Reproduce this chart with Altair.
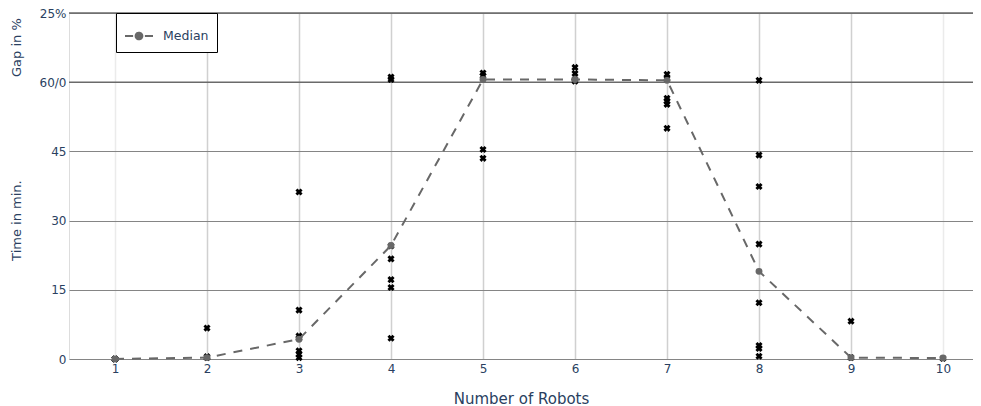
import altair as alt
import pandas as pd

# ---- data ----
robots = [1, 2, 3, 4, 5, 6, 7, 8, 9, 10]
times_r1 = [0.0, 0.0, 0.0]
times_r2 = [6.7, 0.5, 0.3]
times_r3 = [36.2, 10.6, 5.0, 4.5, 1.8, 1.0, 0.3]
times_r4 = [61.1, 60.6, 24.5, 21.7, 17.2, 15.5, 4.5]
times_r5 = [62.0, 61.4, 45.4, 43.5]
times_r6 = [63.2, 61.9, 60.6, 60.2]
times_r7 = [61.7, 60.8, 56.5, 55.9, 55.2, 50.0]
times_r8 = [60.4, 44.2, 37.4, 24.9, 12.2, 2.9, 2.3, 0.6]
times_r9 = [8.2, 0.3]
times_r10 = [0.1]
median_time = [0.0, 0.3, 4.3, 24.6, 60.6, 60.6, 60.4, 19.0, 0.3, 0.2]

y_tick_values = [0, 7.5, 15, 22.5, 30, 37.5, 45, 52.5, 60, 67.5, 75]
y_tick_labels = {0: "0", 15: "15", 30: "30", 45: "45", 60: "60/0", 75: "25%"}
y_titles = ["Time in min.", "Gap in %"]
y_title_pos = [30, 67.5]

all_times = [times_r1, times_r2, times_r3, times_r4, times_r5,
             times_r6, times_r7, times_r8, times_r9, times_r10]

scatter_df = pd.DataFrame(
    [{"robots": r, "time": t} for r, vals in zip(robots, all_times) for t in vals]
)
median_df = pd.DataFrame({"robots": robots, "time": median_time, "series": "Median"})
title_df = pd.DataFrame({"label": y_titles, "pos": y_title_pos})
sep_df = pd.DataFrame({"v": [60, 75]})

FONT = "DejaVu Sans"
TXT = "#2a3f5f"

label_expr = " : ".join(
    [f"datum.value == {k} ? '{v}'" for k, v in y_tick_labels.items()] + ["''"]
)

x_enc = alt.X(
    "robots:Q",
    scale=alt.Scale(domain=[0.5, 10.326], nice=False, zero=False),
    axis=alt.Axis(
        values=robots, format="d", title="Number of Robots", grid=True,
        gridColor={"condition": {"test": "datum.value == 1 || datum.value == 10",
                                 "value": "#ebebeb"}, "value": "#d0d0d0"},
        gridWidth=1.5, domain=False, ticks=False, labelPadding=4,
        titlePadding=17, labelFontSize=12, titleFontSize=15,
        labelFont=FONT, titleFont=FONT, labelColor=TXT, titleColor=TXT,
        titleFontWeight="normal",
    ),
)
y_scale = alt.Scale(domain=[0, 75], nice=False, zero=True)
y_enc = alt.Y(
    "time:Q", scale=y_scale,
    axis=alt.Axis(
        values=y_tick_values, labelExpr=label_expr, title=None, grid=True,
        gridColor={"condition": {"test": "datum.value % 15 == 0",
                                 "value": "#858585"}, "value": "#9a9a9a"},
        gridWidth=1, domain=False, ticks=False, labelPadding=3,
        labelFontSize=12, labelFont=FONT, labelColor=TXT,
    ),
)

scatter = alt.Chart(scatter_df).mark_point(
    shape="cross", angle=45, filled=True, color="black", size=52, opacity=1
).encode(x=x_enc, y=y_enc)

sep = alt.Chart(sep_df).mark_rule(color="#6a6a6a", strokeWidth=1.5).encode(
    y=alt.Y("v:Q", scale=y_scale)
)

legend_path = ("M-1,0L-0.42,0M0.42,0L1,0"
               "M0.24,0A0.24,0.24,0,1,1,-0.24,0A0.24,0.24,0,1,1,0.24,0Z")

median_line = alt.Chart(median_df).mark_line(
    strokeDash=[9, 8], strokeWidth=2
).encode(
    x="robots:Q", y=alt.Y("time:Q", scale=y_scale),
    color=alt.Color(
        "series:N", scale=alt.Scale(range=["#686868"]),
        legend=alt.Legend(
            title=None, orient="none", legendX=47, legendY=0,
            strokeColor="black", fillColor="white", padding=8,
            symbolType=legend_path, symbolSize=784, symbolStrokeWidth=2,
            symbolFillColor="#686868", symbolStrokeColor="#686868",
            symbolDash=[1, 0], labelOffset=9,
            labelFont=FONT, labelFontSize=12.5, labelColor=TXT,
        ),
    ),
)
median_pts = alt.Chart(median_df).mark_circle(
    color="#686868", size=48, opacity=1
).encode(x="robots:Q", y=alt.Y("time:Q", scale=y_scale))

titles = alt.Chart(title_df).mark_text(
    angle=270, font=FONT, fontSize=13, color=TXT, align="center", baseline="middle"
).encode(
    x=alt.value(-52), y=alt.Y("pos:Q", scale=y_scale), text="label:N"
)

chart = alt.layer(sep, scatter, median_line, median_pts, titles).properties(
    width=904, height=346,
    autosize=alt.AutoSizeParams(type="none"),
    padding={"left": 61, "top": 5, "right": 0, "bottom": 48},
).configure_view(stroke=None).configure(background="white")

chart.save("out.html", embed_options={"renderer": "svg", "actions": False})
